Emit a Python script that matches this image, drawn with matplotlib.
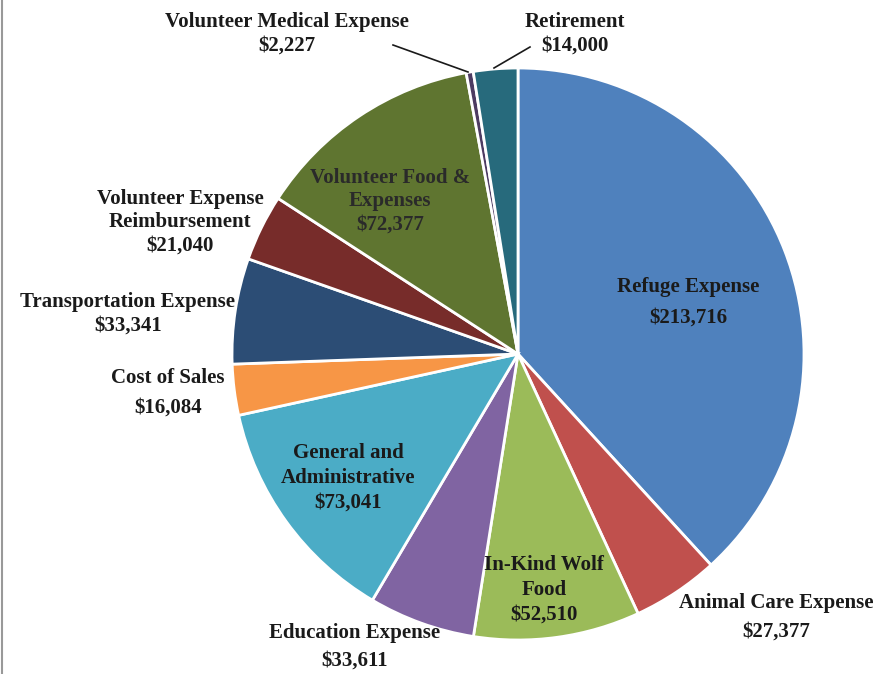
import matplotlib
matplotlib.use("Agg")
import matplotlib.pyplot as plt
from matplotlib.lines import Line2D

categories = ["Refuge Expense", "Animal Care Expense", "In-Kind Wolf Food",
              "Education Expense", "General and Administrative", "Cost of Sales",
              "Transportation Expense", "Volunteer Expense Reimbursement",
              "Volunteer Food & Expenses", "Volunteer Medical Expense", "Retirement"]
values = [213716, 27377, 52510, 33611, 73041, 16084, 33341, 21040, 72377, 2227, 14000]
label_texts = ["Refuge Expense\n$213,716", "Animal Care Expense\n$27,377",
               "In-Kind Wolf\nFood\n$52,510", "Education Expense\n$33,611",
               "General and\nAdministrative\n$73,041", "Cost of Sales\n$16,084",
               "Transportation Expense\n$33,341", "Volunteer Expense\nReimbursement\n$21,040",
               "Volunteer Food &\nExpenses\n$72,377", "Volunteer Medical Expense\n$2,227",
               "Retirement\n$14,000"]

colors = ["#4F81BD", "#C0504D", "#9BBB59", "#8064A2", "#4BACC6", "#F79646",
          "#2C4D75", "#772C2A", "#5F7530", "#4D3B62", "#276A7C"]

W, H = 894, 674
fig = plt.figure(figsize=(W / 100, H / 100), dpi=100)
ax = fig.add_axes([0, 0, 1, 1])

cx, cy, r = 518, H - 354, 286
ax.pie(values, colors=colors, startangle=90, counterclock=False,
       center=(cx, cy), radius=r, frame=True,
       wedgeprops=dict(edgecolor="white", linewidth=2.0))
ax.set_xlim(0, W)
ax.set_ylim(0, H)
ax.set_aspect("equal")
ax.axis("off")

# label positions (pixel coords, y from top), line spacing
label_pos = [(688, 302, 1.7), (776, 617, 1.58), (544, 590, 1.3), (355, 647, 1.53),
             (348, 478, 1.3), (168, 393, 1.67), (128, 314, 1.26), (180, 222, 1.22),
             (390, 201, 1.22), (287, 34, 1.22), (575, 34, 1.22)]
text_colors = ["#1a1a1a"] * 11
text_colors[8] = "#2a2a2a"

font = ["Liberation Serif", "DejaVu Serif"]
for txt, (x, y, ls), tc in zip(label_texts, label_pos, text_colors):
    ax.text(x, H - y, txt, ha="center", va="center", fontsize=15,
            fontweight="bold", family=font, color=tc, linespacing=ls)

# leader lines
ax.plot([393, 468], [H - 45, H - 72], color="#1a1a1a", lw=1.2)
ax.plot([494, 530], [H - 68, H - 47], color="#1a1a1a", lw=1.2)

# left border line
fig.add_artist(Line2D([0.002, 0.002], [0, 1], transform=fig.transFigure,
                      color="#999999", lw=1.5))

fig.savefig("out.png", dpi=100, facecolor="white")
